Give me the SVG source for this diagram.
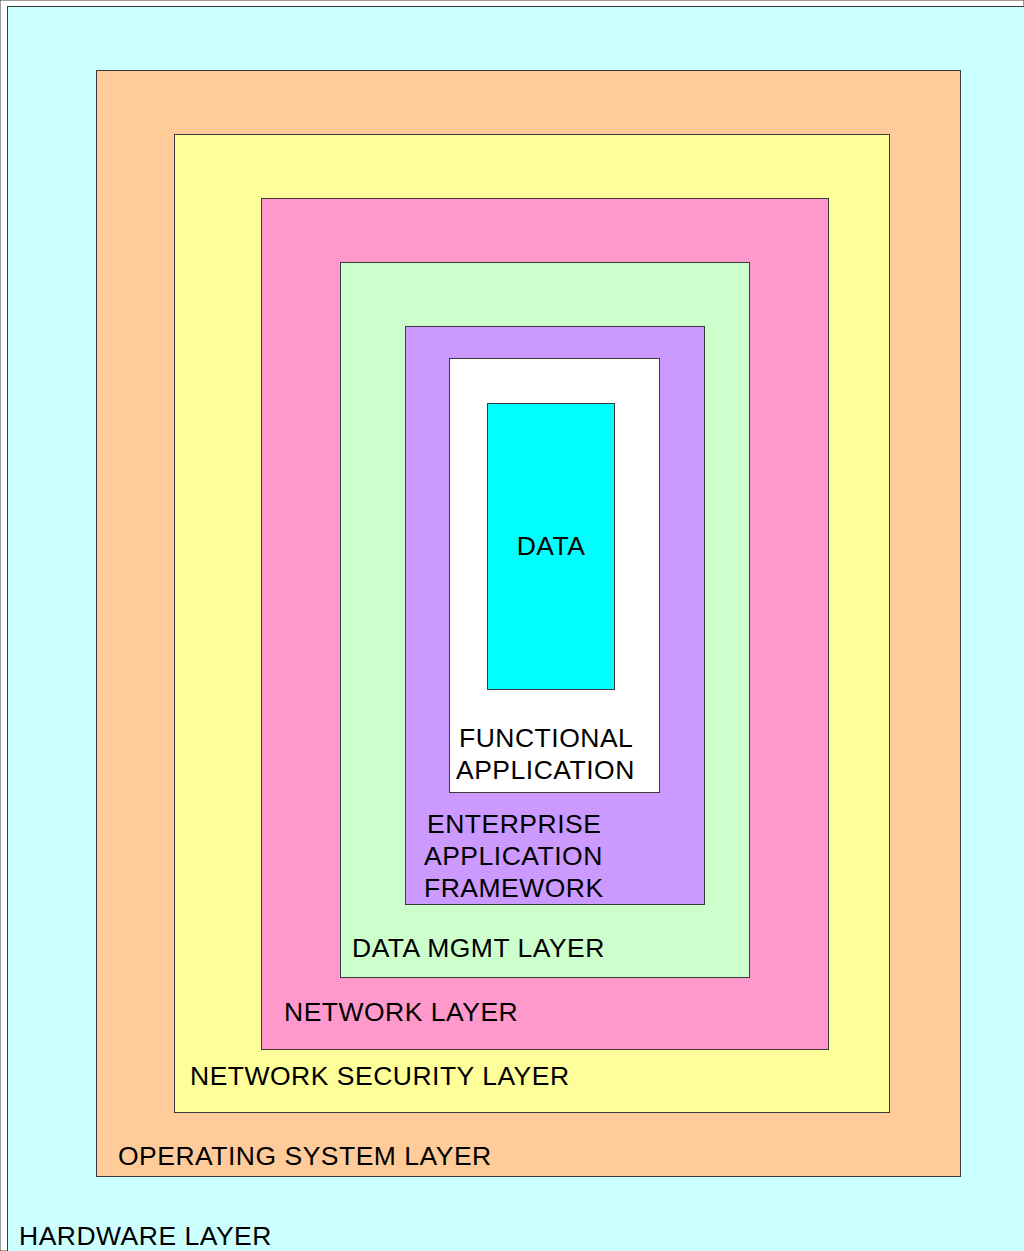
<svg xmlns="http://www.w3.org/2000/svg" width="1024" height="1251" viewBox="0 0 1024 1251">
<style>
rect{stroke:#3a3a3a;stroke-width:1}
text{font-family:"Liberation Sans",Arial,sans-serif;font-size:26.5px;letter-spacing:0.5px;fill:#000}
</style>
<rect x="0" y="0" width="1024" height="1251" fill="#fff" stroke="none"/>
<g id="hardware"><rect x="7.5" y="6.5" width="1030" height="1260" fill="#CCFFFF"/><text x="19" y="1245">HARDWARE LAYER</text></g>
<g id="os"><rect x="96.5" y="70.5" width="864" height="1106" fill="#FFCC99"/><text x="118" y="1165">OPERATING SYSTEM LAYER</text></g>
<g id="netsec"><rect x="174.5" y="134.5" width="715" height="978" fill="#FFFF99"/><text x="190" y="1085">NETWORK SECURITY LAYER</text></g>
<g id="network"><rect x="261.5" y="198.5" width="567" height="851" fill="#FF99CC"/><text x="284" y="1021">NETWORK LAYER</text></g>
<g id="datamgmt"><rect x="340.5" y="262.5" width="409" height="715" fill="#CCFFCC"/><text x="352" y="957">DATA MGMT LAYER</text></g>
<g id="enterprise"><rect x="405.5" y="326.5" width="299" height="578" fill="#CC99FF"/><text x="427" y="833">ENTERPRISE</text><text x="424" y="865">APPLICATION</text><text x="424" y="897">FRAMEWORK</text></g>
<g id="functional"><rect x="449.5" y="358.5" width="210" height="434" fill="#FFFFFF"/><text x="459" y="747">FUNCTIONAL</text><text x="456" y="779">APPLICATION</text></g>
<g id="data"><rect x="487.5" y="403.5" width="127" height="286" fill="#00FFFF"/><text x="551" y="555" text-anchor="middle">DATA</text></g>
<g id="connectors"/>
</svg>
